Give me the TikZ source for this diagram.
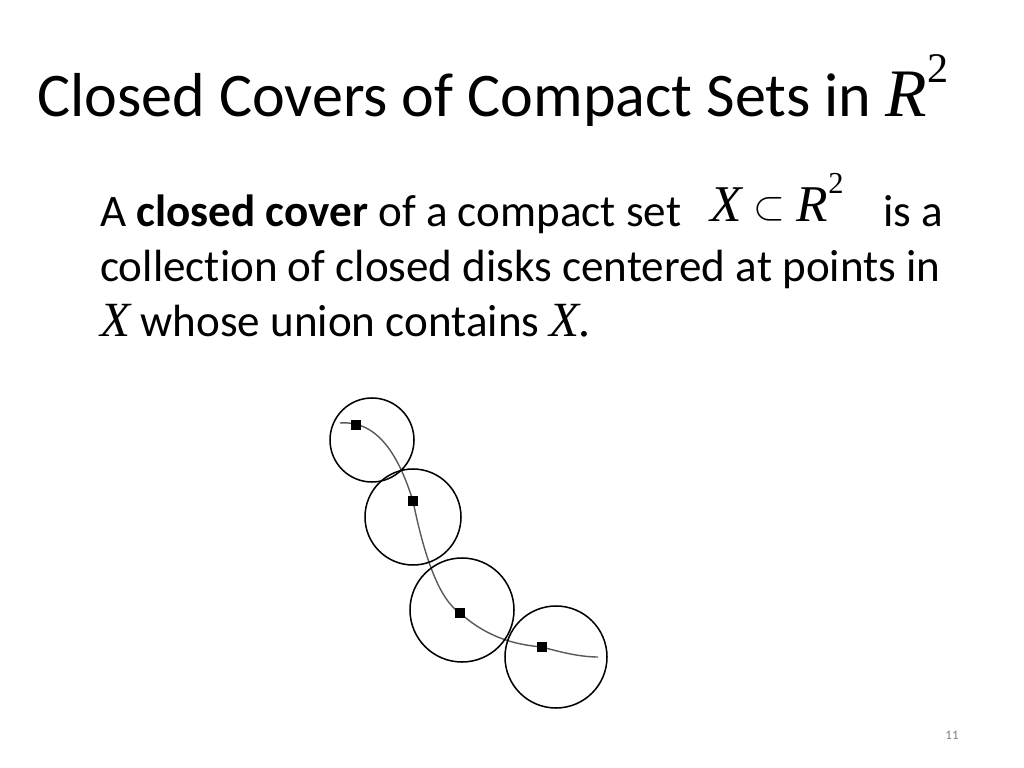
\documentclass[tikz,border=0pt]{standalone}
\usepackage{fontspec}
\setmainfont[Ligatures={NoCommon,NoRequired}]{Carlito}
\newfontfamily\tms{Liberation Serif}
\newcommand{\vx}[1]{{\tms\itshape #1}}
\begin{document}
\begin{tikzpicture}[x=0.03cm,y=-0.03cm,
    disk/.style={draw,line width=1.3pt},
    pt/.style={fill=black,minimum size=9pt,inner sep=0pt},
    txt/.style={anchor=base west,inner sep=0pt,font=\fontsize{38.5}{44}\selectfont}]
  \useasboundingbox (0,0) rectangle (1024,768);

  % title
  \node[anchor=base west,inner sep=0pt,font=\fontsize{53}{60}\selectfont] (title) at (37,117)
    {Closed Covers of Compact Sets in {\fontsize{58}{60}\vx{R}}\raisebox{0.55em}{\fontsize{36}{36}\tms 2}};

  % body
  \node[txt] (l1a) at (100,227) {A \textbf{closed cover} of a compact set};
  \node[txt,font=\fontsize{44}{44}\selectfont] (l1b) at (710,222) {\vx{X} \raisebox{0.05em}{\scalebox{1.4}{$\subset$}} \vx{R}\raisebox{0.55em}{\fontsize{26}{26}\tms 2}};
  \node[txt] (l1c) at (883,227) {is a};
  \node[txt] (l2) at (100,282) {collection of closed disks centered at points in};
  \node[txt] (l3) at (100,337) {{\fontsize{42}{44}\vx{X}} whose union contains {\fontsize{42}{44}\vx{X.}}};

  % curve
  \draw[gray!70!black,line width=1.2pt] (340,423) .. controls (380,420) and (400,460) .. (413,501)
    .. controls (425,560) and (440,600) .. (460,613)
    .. controls (490,640) and (520,645) .. (542,647)
    .. controls (560,652) and (580,657) .. (598,657);

  % disks
  \draw[disk] (372,440) circle (42);
  \draw[disk] (413,517) circle (48);
  \draw[disk] (462,610) circle (52);
  \draw[disk] (556,657) circle (51);

  % centres
  \node[pt] (c1) at (356,425) {};
  \node[pt] (c2) at (413,501) {};
  \node[pt] (c3) at (460,613) {};
  \node[pt] (c4) at (542,647) {};

  \node[font=\fontsize{11}{13}\selectfont,text=gray] (num) at (952,735) {11};
\end{tikzpicture}
\end{document}
